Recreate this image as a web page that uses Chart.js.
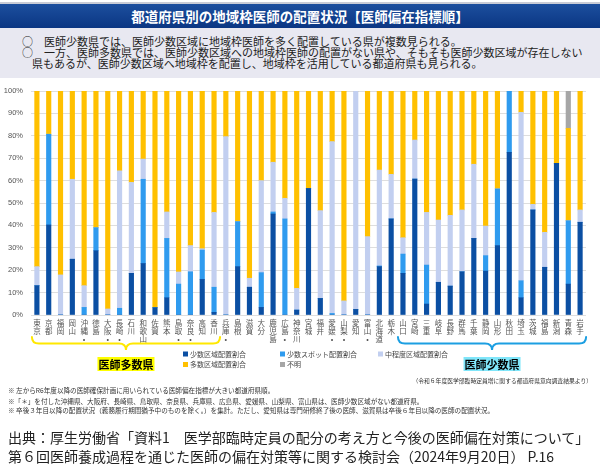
<!DOCTYPE html>
<html><head><meta charset="utf-8">
<script src="https://cdn.jsdelivr.net/npm/chart.js@4.4.1/dist/chart.umd.min.js"></script>
<style>
html,body{margin:0;padding:0;background:#fff;}
body{width:600px;height:467px;position:relative;overflow:hidden;font-family:"Noto Sans CJK JP","Noto Sans",sans-serif;color:#222;}
.abs{position:absolute;white-space:nowrap;}
#topline{left:0;top:2px;width:600px;height:2px;background:#c9ccd6;}
#banner{left:0;top:4px;width:600px;height:24px;background:linear-gradient(#1c4f9e,#0b3683);}
#title{left:0;top:4px;width:600px;height:24px;line-height:24px;text-align:center;color:#fff;font-weight:bold;font-size:13.5px;}
#box{left:0;top:28px;width:600px;height:50px;background:#e8e8f1;}
.bl{font-size:11px;line-height:11px;color:#222;}
#chartwrap{left:0;top:78px;width:600px;height:300px;}
.note{font-size:6.6px;line-height:8px;color:#333;}
.src{font-size:14px;line-height:18px;color:#222;}
</style>
</head><body>
<div id="topline" class="abs"></div>
<div id="banner" class="abs"></div>
<div id="title" class="abs">都道府県別の地域枠医師の配置状況【医師偏在指標順】</div>
<div id="box" class="abs"></div>
<div class="abs bl" style="left:22px;top:36px;">○</div>
<div class="abs bl" style="left:44px;top:36px;">医師少数県では、医師少数区域に地域枠医師を多く配置している県が複数見られる。</div>
<div class="abs bl" style="left:22px;top:47px;">○</div>
<div class="abs bl" style="left:44px;top:47px;">一方、医師多数県では、医師少数区域への地域枠医師の配置がない県や、そもそも医師少数区域が存在しない</div>
<div class="abs bl" style="left:32px;top:58px;">県もあるが、医師少数区域へ地域枠を配置し、地域枠を活用している都道府県も見られる。</div>
<div id="chartwrap" class="abs"><canvas id="c" width="600" height="300"></canvas></div>
<div class="abs note" style="right:8px;top:377px;font-size:5.8px;">（令和６年度医学部臨時定員増に関する都道府県意向調査結果より）</div>
<div class="abs note" style="left:8px;top:386px;">※ 左からR6年度以降の医師確保計画に用いられている医師偏在指標が大きい都道府県順。</div>
<div class="abs note" style="left:8px;top:397px;">※「＊」を付した沖縄県、大阪府、長崎県、鳥取県、奈良県、兵庫県、広島県、愛媛県、山梨県、富山県は、医師少数区域がない都道府県。</div>
<div class="abs note" style="left:8px;top:406px;">※ 卒後３年目以降の配置状況（義務履行期間猶予中のものを除く。）を集計。ただし、愛知県は専門研修終了後の医師、滋賀県は卒後６年目以降の医師の配置状況。</div>
<div class="abs src" style="left:8px;top:428px;">出典：厚生労働省「資料1　医学部臨時定員の配分の考え方と今後の医師偏在対策について」</div>
<div class="abs src" style="left:8px;top:447px;">第６回医師養成過程を通じた医師の偏在対策等に関する検討会（2024年9月20日） P.16</div>
<script>
const categories = ['東京','京都','福岡','岡山','沖縄','徳島','大阪','長崎','石川','和歌山','佐賀','熊本','鳥取','奈良','高知','香川','兵庫','島根','滋賀','大分','鹿児島','広島','神奈川','宮城','福井','愛媛','山梨','愛知','富山','北海道','栃木','山口','宮崎','三重','岐阜','長野','群馬','千葉','静岡','山形','秋田','埼玉','茨城','福島','新潟','青森','岩手'];
const starred = ['沖縄','大阪','長崎','鳥取','奈良','兵庫','広島','愛媛','山梨','富山'];
const yTickLabels = ['0%','10%','20%','30%','40%','50%','60%','70%','80%','90%','100%'];
const seriesNames = ['少数区域配置割合','少数スポット配置割合','中程度区域配置割合','多数区域配置割合','不明'];
const fewArea   = [13.1,40.2,0,24.9,0,28.7,0,0,18.6,23.0,3.3,7.7,0,0,15.9,1.2,0,21.6,12.4,3.4,45.1,0,2.2,56.5,7.4,0,0,2.5,0,21.6,42.9,18.6,60.7,4.9,14.6,12.9,19.3,34.2,19.6,31.0,72.6,7.7,46.9,21.3,67.7,13.8,41.4];
const fewSpot   = [0,40.5,0,0,3.4,10.3,0,3.0,0,37.6,0,26.5,13.8,19.3,13.1,11.2,0,20.1,0,15.5,0.9,42.9,0,0,0,0.7,0,0,0,0.3,0,8.6,0,17.4,0,0,0,0,6.9,25.3,27.4,7.6,0,0,0,28.3,0];
const midArea   = [8.5,0,17.9,35.7,9.7,0,2.7,61.4,40.6,9.0,0,11.8,5.4,11.7,0.6,33.4,79.6,0,4.0,41.1,22.2,9.2,9.7,0,39.2,76.7,6.3,97.5,35.0,42.8,19.9,7.3,17.4,23.5,27.8,31.6,27.6,33.1,13.2,0,0,75.2,2.5,15.6,0,0,5.5];
const manyArea  = [78.4,19.3,82.1,39.4,86.9,61.0,97.3,35.6,40.8,30.4,96.7,54.0,80.8,69.0,70.4,54.2,20.4,58.3,83.6,40.0,31.8,47.9,88.1,43.5,53.4,22.6,93.7,0,65.0,35.3,37.2,65.5,21.9,54.2,57.6,55.5,53.1,32.7,60.3,43.7,0,9.5,50.6,63.1,32.3,41.2,53.1];
const unknown   = [0,0,0,0,0,0,0,0,0,0,0,0,0,0,0,0,0,0,0,0,0,0,0,0,0,0,0,0,0,0,0,0,0,0,0,0,0,0,0,0,0,0,0,0,0,16.7,0];
const colors = ['#0b4fa3','#2f9bef','#c2cff0','#ffc000','#a6a6a6'];
const groups = [
  {label:'医師多数県', from:0, to:15, line:'#ffe800', bg:'#ffff00'},
  {label:'医師少数県', from:31, to:46, line:'#1c9fe2', bg:'#80e6fa'}
];

const tickLabels = categories.map(n => {
  const a = Array.from(n);
  if (starred.includes(n)) a.push('•');
  return a;
});

const overlay = {
  id:'overlay',
  afterDraw(chart){
    const ctx = chart.ctx, xs = chart.scales.x;
    groups.forEach(g => {
      const x1 = xs.getPixelForValue(g.from) - 5;
      const x2 = xs.getPixelForValue(g.to) + 6;
      const xc = (x1 + x2) / 2;
      const yT = 259, yH = 265.5, yP = 272, r = 7;
      ctx.save();
      ctx.strokeStyle = g.line; ctx.lineWidth = 2; ctx.lineCap = 'round';
      ctx.beginPath();
      ctx.moveTo(x1, yT);
      ctx.quadraticCurveTo(x1, yH, x1 + r, yH);
      ctx.lineTo(xc - r, yH);
      ctx.quadraticCurveTo(xc, yH, xc, yP);
      ctx.quadraticCurveTo(xc, yH, xc + r, yH);
      ctx.lineTo(x2 - r, yH);
      ctx.quadraticCurveTo(x2, yH, x2, yT);
      ctx.stroke();
      ctx.font = 'bold 11px "Noto Sans CJK JP"';
      const w = ctx.measureText(g.label).width;
      ctx.fillStyle = g.bg;
      ctx.fillRect(xc - w/2 - 1, 279, w + 2, 14);
      ctx.fillStyle = '#000';
      ctx.textAlign = 'center'; ctx.textBaseline = 'middle';
      ctx.fillText(g.label, xc, 286.5);
      ctx.restore();
    });
    // legend
    const cols = [183, 280, 378], rows = [276, 286.5];
    const order = [[0,1,2],[3,4]];
    ctx.save();
    ctx.font = '7px "Noto Sans CJK JP"';
    ctx.textBaseline = 'middle'; ctx.textAlign = 'left';
    order.forEach((row, ri) => row.forEach((di, ci) => {
      const ds = chart.data.datasets[di];
      ctx.fillStyle = ds.backgroundColor;
      ctx.fillRect(cols[ci], rows[ri] - 2.5, 5, 5);
      ctx.fillStyle = '#444';
      ctx.fillText(ds.label, cols[ci] + 7, rows[ri]);
    }));
    ctx.restore();
  }
};

const seriesData = [fewArea, fewSpot, midArea, manyArea, unknown];
new Chart(document.getElementById('c'), {
  type:'bar',
  data:{
    labels: tickLabels,
    datasets: seriesData.map((d,i) => ({
      label: seriesNames[i], data: d, backgroundColor: colors[i],
      borderWidth: 0, barThickness: 4.5
    }))
  },
  options:{
    responsive:false, animation:false,
    layout:{padding:{left:0,right:14,top:13,bottom:0}},
    plugins:{legend:{display:false}, tooltip:{enabled:false}},
    scales:{
      x:{
        stacked:true,
        grid:{display:false, drawTicks:false},
        border:{display:false},
        ticks:{autoSkip:false, maxRotation:0, minRotation:0, padding:4, color:'#555',
          font:{family:'"Noto Sans CJK JP"', size:7.5, lineHeight:1.08}},
        afterFit(s){ s.height = 63; }
      },
      y:{
        stacked:true, min:0, max:100,
        grid:{color:'#dedede', drawTicks:false, lineWidth:1},
        border:{display:false},
        ticks:{stepSize:10, padding:8, color:'#555',
          font:{family:'"Liberation Sans"', size:7.5},
          callback:(v) => yTickLabels[Math.round(v/10)]},
        afterFit(s){ s.width = 31; }
      }
    }
  },
  plugins:[overlay]
});
</script>
</body></html>
